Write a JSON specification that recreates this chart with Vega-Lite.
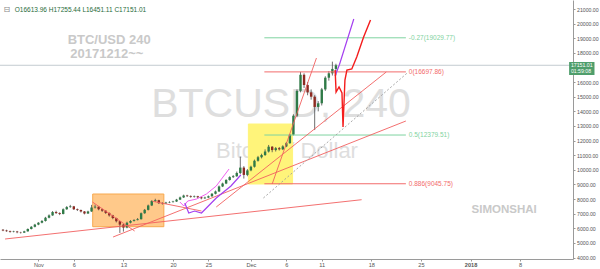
{
  "$schema": "https://vega.github.io/schema/vega-lite/v6.json",
  "width": 573,
  "height": 259,
  "autosize": {"type": "none"},
  "padding": {"left": 0, "top": 0, "right": 27, "bottom": 10},
  "background": "white",
  "config": {"view": {"stroke": null}, "font": "Liberation Sans", "axis": {"labelOverlap": false}},
  "datasets": {
    "candles": [
      {"t":"2017-10-27T00:00:00Z","o":5900,"h":5950,"l":5800,"c":5850},
      {"t":"2017-10-27T12:00:00Z","o":5850,"h":5900,"l":5760,"c":5800},
      {"t":"2017-10-28T00:00:00Z","o":5800,"h":5840,"l":5700,"c":5750},
      {"t":"2017-10-28T12:00:00Z","o":5750,"h":5830,"l":5720,"c":5780},
      {"t":"2017-10-29T00:00:00Z","o":5780,"h":5820,"l":5660,"c":5720},
      {"t":"2017-10-29T12:00:00Z","o":5720,"h":5760,"l":5640,"c":5700},
      {"t":"2017-10-30T00:00:00Z","o":5700,"h":5830,"l":5680,"c":5790},
      {"t":"2017-10-30T12:00:00Z","o":5790,"h":5990,"l":5770,"c":5950},
      {"t":"2017-10-31T00:00:00Z","o":5950,"h":6150,"l":5920,"c":6100},
      {"t":"2017-10-31T12:00:00Z","o":6100,"h":6300,"l":6060,"c":6250},
      {"t":"2017-11-01T00:00:00Z","o":6250,"h":6420,"l":6210,"c":6380},
      {"t":"2017-11-01T12:00:00Z","o":6380,"h":6560,"l":6340,"c":6500},
      {"t":"2017-11-02T00:00:00Z","o":6500,"h":6780,"l":6460,"c":6720},
      {"t":"2017-11-02T12:00:00Z","o":6720,"h":6950,"l":6680,"c":6880},
      {"t":"2017-11-03T00:00:00Z","o":6880,"h":7180,"l":6850,"c":7110},
      {"t":"2017-11-03T12:00:00Z","o":7110,"h":7200,"l":6980,"c":7040},
      {"t":"2017-11-04T00:00:00Z","o":7040,"h":7090,"l":6900,"c":6980},
      {"t":"2017-11-04T12:00:00Z","o":6980,"h":7360,"l":6950,"c":7300},
      {"t":"2017-11-05T00:00:00Z","o":7300,"h":7520,"l":7260,"c":7450},
      {"t":"2017-11-05T12:00:00Z","o":7450,"h":7600,"l":7400,"c":7500},
      {"t":"2017-11-06T00:00:00Z","o":7500,"h":7530,"l":7250,"c":7300},
      {"t":"2017-11-06T12:00:00Z","o":7300,"h":7350,"l":7180,"c":7250},
      {"t":"2017-11-07T00:00:00Z","o":7250,"h":7280,"l":7080,"c":7150},
      {"t":"2017-11-07T12:00:00Z","o":7150,"h":7180,"l":6950,"c":7010},
      {"t":"2017-11-08T00:00:00Z","o":7010,"h":7200,"l":6980,"c":7150},
      {"t":"2017-11-08T12:00:00Z","o":7150,"h":7600,"l":7120,"c":7420},
      {"t":"2017-11-09T00:00:00Z","o":7420,"h":7620,"l":7350,"c":7480},
      {"t":"2017-11-09T12:00:00Z","o":7480,"h":7500,"l":7230,"c":7300},
      {"t":"2017-11-10T00:00:00Z","o":7300,"h":7340,"l":7120,"c":7200},
      {"t":"2017-11-10T12:00:00Z","o":7200,"h":7230,"l":6980,"c":7050},
      {"t":"2017-11-11T00:00:00Z","o":7050,"h":7080,"l":6800,"c":6880},
      {"t":"2017-11-11T12:00:00Z","o":6880,"h":6920,"l":6620,"c":6700},
      {"t":"2017-11-12T00:00:00Z","o":6700,"h":6720,"l":6400,"c":6480},
      {"t":"2017-11-12T12:00:00Z","o":6480,"h":6500,"l":5680,"c":6250},
      {"t":"2017-11-13T00:00:00Z","o":6250,"h":6300,"l":5770,"c":6050},
      {"t":"2017-11-13T12:00:00Z","o":6050,"h":6450,"l":6000,"c":6380},
      {"t":"2017-11-14T00:00:00Z","o":6380,"h":6560,"l":6330,"c":6500},
      {"t":"2017-11-14T12:00:00Z","o":6500,"h":6620,"l":6460,"c":6560},
      {"t":"2017-11-15T00:00:00Z","o":6560,"h":6700,"l":6540,"c":6620},
      {"t":"2017-11-15T12:00:00Z","o":6620,"h":7080,"l":6600,"c":7030},
      {"t":"2017-11-16T00:00:00Z","o":7030,"h":7320,"l":6990,"c":7260},
      {"t":"2017-11-16T12:00:00Z","o":7260,"h":7620,"l":7220,"c":7560},
      {"t":"2017-11-17T00:00:00Z","o":7560,"h":7920,"l":7520,"c":7860},
      {"t":"2017-11-17T12:00:00Z","o":7860,"h":8020,"l":7800,"c":7920},
      {"t":"2017-11-18T00:00:00Z","o":7920,"h":7950,"l":7660,"c":7720},
      {"t":"2017-11-18T12:00:00Z","o":7720,"h":7780,"l":7620,"c":7700},
      {"t":"2017-11-19T00:00:00Z","o":7700,"h":7810,"l":7660,"c":7760},
      {"t":"2017-11-19T12:00:00Z","o":7760,"h":7850,"l":7720,"c":7790},
      {"t":"2017-11-20T00:00:00Z","o":7790,"h":7880,"l":7760,"c":7830},
      {"t":"2017-11-20T12:00:00Z","o":7830,"h":8010,"l":7800,"c":7960},
      {"t":"2017-11-21T00:00:00Z","o":7960,"h":8170,"l":7930,"c":8110},
      {"t":"2017-11-21T12:00:00Z","o":8110,"h":8300,"l":8070,"c":8240},
      {"t":"2017-11-22T00:00:00Z","o":8240,"h":8290,"l":8140,"c":8200},
      {"t":"2017-11-22T12:00:00Z","o":8200,"h":8250,"l":8090,"c":8150},
      {"t":"2017-11-23T00:00:00Z","o":8150,"h":8240,"l":8100,"c":8190},
      {"t":"2017-11-23T12:00:00Z","o":8190,"h":8220,"l":8050,"c":8120},
      {"t":"2017-11-24T00:00:00Z","o":8120,"h":8150,"l":7980,"c":8050},
      {"t":"2017-11-24T12:00:00Z","o":8050,"h":8160,"l":8010,"c":8100},
      {"t":"2017-11-25T00:00:00Z","o":8100,"h":8240,"l":8060,"c":8190},
      {"t":"2017-11-25T12:00:00Z","o":8190,"h":8410,"l":8150,"c":8360},
      {"t":"2017-11-26T00:00:00Z","o":8360,"h":8580,"l":8320,"c":8520},
      {"t":"2017-11-26T12:00:00Z","o":8520,"h":8920,"l":8480,"c":8860},
      {"t":"2017-11-27T00:00:00Z","o":8860,"h":9120,"l":8820,"c":9060},
      {"t":"2017-11-27T12:00:00Z","o":9060,"h":9360,"l":9020,"c":9300},
      {"t":"2017-11-28T00:00:00Z","o":9300,"h":9560,"l":9260,"c":9500},
      {"t":"2017-11-28T12:00:00Z","o":9500,"h":9640,"l":9440,"c":9560},
      {"t":"2017-11-29T00:00:00Z","o":9560,"h":9880,"l":9520,"c":9780},
      {"t":"2017-11-29T12:00:00Z","o":9780,"h":10900,"l":9700,"c":10150},
      {"t":"2017-11-30T00:00:00Z","o":10150,"h":10250,"l":9400,"c":9650},
      {"t":"2017-11-30T12:00:00Z","o":9650,"h":10050,"l":9560,"c":9960},
      {"t":"2017-12-01T00:00:00Z","o":9960,"h":10280,"l":9900,"c":10210},
      {"t":"2017-12-01T12:00:00Z","o":10210,"h":10700,"l":10150,"c":10620},
      {"t":"2017-12-02T00:00:00Z","o":10620,"h":10950,"l":10560,"c":10860},
      {"t":"2017-12-02T12:00:00Z","o":10860,"h":11100,"l":10780,"c":11010},
      {"t":"2017-12-03T00:00:00Z","o":11010,"h":11400,"l":10950,"c":11250},
      {"t":"2017-12-03T12:00:00Z","o":11250,"h":11700,"l":11180,"c":11580},
      {"t":"2017-12-04T00:00:00Z","o":11580,"h":11620,"l":11200,"c":11350},
      {"t":"2017-12-04T12:00:00Z","o":11350,"h":11560,"l":11250,"c":11480},
      {"t":"2017-12-05T00:00:00Z","o":11480,"h":11560,"l":11320,"c":11400},
      {"t":"2017-12-05T12:00:00Z","o":11400,"h":11680,"l":11350,"c":11600},
      {"t":"2017-12-06T00:00:00Z","o":11600,"h":11900,"l":11550,"c":11820},
      {"t":"2017-12-06T12:00:00Z","o":11820,"h":12450,"l":11780,"c":12400},
      {"t":"2017-12-07T00:00:00Z","o":12400,"h":13800,"l":12350,"c":13700},
      {"t":"2017-12-07T12:00:00Z","o":13700,"h":15500,"l":13600,"c":15400},
      {"t":"2017-12-08T00:00:00Z","o":15400,"h":16698,"l":15300,"c":16500},
      {"t":"2017-12-08T12:00:00Z","o":16500,"h":16600,"l":15600,"c":15800},
      {"t":"2017-12-09T00:00:00Z","o":15800,"h":16000,"l":15100,"c":15300},
      {"t":"2017-12-09T12:00:00Z","o":15300,"h":15500,"l":14800,"c":15000},
      {"t":"2017-12-10T00:00:00Z","o":15000,"h":15100,"l":12720,"c":14300},
      {"t":"2017-12-10T12:00:00Z","o":14300,"h":14700,"l":14000,"c":14550},
      {"t":"2017-12-11T00:00:00Z","o":14550,"h":15600,"l":14400,"c":15500},
      {"t":"2017-12-11T12:00:00Z","o":15500,"h":16400,"l":15400,"c":16300},
      {"t":"2017-12-12T00:00:00Z","o":16300,"h":16750,"l":16100,"c":16600},
      {"t":"2017-12-12T12:00:00Z","o":16600,"h":17400,"l":16450,"c":16900},
      {"t":"2017-12-13T00:00:00Z","o":16900,"h":17255.44,"l":16451.11,"c":17151.01}
    ],
    "boxes": [
      {"t":"2017-11-08T16:00:00Z","t2":"2017-11-18T17:00:00Z","p":8344,"p2":6107,"k":"orange"},
      {"t":"2017-11-30T15:20:00Z","t2":"2017-12-06T21:10:00Z","p":13133,"p2":9028,"k":"yellow"}
    ],
    "fib": [
      {"t":"2017-12-02T21:30:00Z","t2":"2017-12-22T21:00:00Z","p":19029.77,"k":"g"},
      {"t":"2017-12-02T21:30:00Z","t2":"2017-12-22T21:00:00Z","p":16697.86,"k":"r"},
      {"t":"2017-12-02T21:30:00Z","t2":"2017-12-22T21:00:00Z","p":12379.51,"k":"g"},
      {"t":"2017-12-02T21:30:00Z","t2":"2017-12-22T21:00:00Z","p":9045.75,"k":"r"}
    ],
    "fiblbl": [
      {"t":"2017-12-23T07:00:00Z","p":19029.77,"lbl":"-0.27(19029.77)","k":"g"},
      {"t":"2017-12-23T07:00:00Z","p":16697.86,"lbl":"0(16697.86)","k":"r"},
      {"t":"2017-12-23T07:00:00Z","p":12379.51,"lbl":"0.5(12379.51)","k":"g"},
      {"t":"2017-12-23T07:00:00Z","p":9045.75,"lbl":"0.886(9045.75)","k":"r"}
    ],
    "trend": [
      {"id":"a","t":"2017-10-27T07:00:00Z","p":5266},
      {"id":"a","t":"2017-12-16T15:00:00Z","p":7954},
      {"id":"b","t":"2017-11-11T13:00:00Z","p":5402},
      {"id":"b","t":"2017-12-22T21:00:00Z","p":13338},
      {"id":"c","t":"2017-11-26T02:30:00Z","p":7455},
      {"id":"c","t":"2017-12-20T02:30:00Z","p":16690},
      {"id":"d","t":"2017-12-04T00:00:00Z","p":9028},
      {"id":"d","t":"2017-12-10T06:00:00Z","p":17648},
      {"id":"e","t":"2017-11-08T15:00:00Z","p":7797},
      {"id":"e","t":"2017-11-14T14:00:00Z","p":5813},
      {"id":"f","t":"2017-11-17T02:00:00Z","p":7850},
      {"id":"f","t":"2017-11-24T00:30:00Z","p":7181}
    ],
    "dotted": [
      {"t":"2017-12-02T18:15:00Z","p":8070},
      {"t":"2017-12-23T03:30:00Z","p":16656}
    ],
    "pink": [
      {"t":"2017-11-20T23:20:00Z","p":7797},
      {"t":"2017-11-21T12:40:00Z","p":7523},
      {"t":"2017-11-22T02:00:00Z","p":7865},
      {"t":"2017-11-23T08:00:00Z","p":8002},
      {"t":"2017-11-24T17:15:00Z","p":8344},
      {"t":"2017-11-26T02:30:00Z","p":8891},
      {"t":"2017-11-27T21:50:00Z","p":10054}
    ],
    "purple": [
      {"id":"lo","t":"2017-11-21T16:00:00Z","p":7729},
      {"id":"lo","t":"2017-11-22T05:20:00Z","p":7044},
      {"id":"lo","t":"2017-11-23T01:10:00Z","p":7181},
      {"id":"lo","t":"2017-11-24T00:30:00Z","p":7044},
      {"id":"lo","t":"2017-11-24T23:50:00Z","p":7523},
      {"id":"lo","t":"2017-11-26T02:30:00Z","p":8070},
      {"id":"lo","t":"2017-11-28T04:20:00Z","p":8891},
      {"id":"lo","t":"2017-11-29T13:40:00Z","p":9644},
      {"id":"hi","t":"2017-12-12T21:00:00Z","p":16416},
      {"id":"hi","t":"2017-12-13T12:00:00Z","p":17200},
      {"id":"hi","t":"2017-12-15T12:30:00Z","p":20316}
    ],
    "redproj": [
      {"t":"2017-12-12T21:20:00Z","p":16827},
      {"t":"2017-12-13T00:30:00Z","p":15322},
      {"t":"2017-12-13T10:30:00Z","p":15664},
      {"t":"2017-12-13T20:30:00Z","p":15254},
      {"t":"2017-12-14T00:00:00Z","p":12928},
      {"t":"2017-12-14T06:30:00Z","p":16143},
      {"t":"2017-12-14T13:10:00Z","p":16827},
      {"t":"2017-12-15T05:45:00Z","p":16895},
      {"t":"2017-12-15T22:30:00Z","p":17716},
      {"t":"2017-12-16T21:50:00Z","p":19084},
      {"t":"2017-12-17T21:10:00Z","p":20247}
    ],
    "note1": [
      {"t":"2017-11-10T23:45:00Z","p":18880,"txt":"BTC/USD 240"},
      {"t":"2017-11-10T16:00:00Z","p":17920,"txt":"20171212~~"}
    ],
    "note2": [
      {"t":"2018-01-05T17:45:00Z","p":7284,"txt":"SIMONSHAI"}
    ],
    "wm1": [
      {"t":"2017-12-05T06:00:00Z","p":14400,"txt":"BTCUSD, 240"}
    ],
    "wm2": [
      {"t":"2017-12-06T02:20:00Z","p":11286,"txt":"Bitcoin / Dollar"}
    ],
    "ohlc": [
      {"t":"2017-10-28T16:00:00Z","p":20966,"txt":"O16613.96  H17255.44  L16451.11  C17151.01"}
    ],
    "icon": [
      {"t":"2017-10-27T13:00:00Z","p":20966,"txt":"⊟"}
    ],
    "last": [
      {"t":"2017-10-26T00:00:00Z","t2":"2018-01-16T00:00:00Z","p":17151.01}
    ],
    "pbox": [
      {"t":"2018-01-14T22:00:00Z","t2":"2018-01-18T12:00:00Z","p":17374,"p2":16486}
    ],
    "ptext": [
      {"t":"2018-01-15T04:00:00Z","p":17200,"txt":"17151.01"},
      {"t":"2018-01-15T04:00:00Z","p":16730,"txt":"01:59:08"}
    ]
  },
  "encoding": {
    "x": {"field": "t", "type": "temporal",
      "scale": {"type": "utc", "domain": [1509086938000, 1515953664000]},
      "axis": {"title": null, "orient": "bottom", "grid": false,
        "values": [1509494400000, 1509926400000, 1510531200000, 1511136000000, 1511568000000, 1512086400000, 1512518400000, 1512950400000, 1513555200000, 1514160000000, 1514764800000, 1515369600000],
        "labelExpr": "utcdate(datum.value) == 1 ? (utcmonth(datum.value) == 0 ? '2018' : utcFormat(datum.value, '%b')) : toString(utcdate(datum.value))",
        "labelFontWeight": {"condition": {"test": "utcmonth(datum.value) == 0 && utcdate(datum.value) == 1", "value": "bold"}, "value": "normal"},
        "labelFontSize": 5.6, "labelColor": "#555555", "labelFont": "Liberation Sans",
        "tickSize": 2, "tickColor": "#999999", "labelPadding": 1.5,
        "domainColor": "#9a9a9a", "labelFlush": false, "labelOverlap": false}},
    "y": {"field": "p", "type": "quantitative",
      "scale": {"domain": [3898, 21616], "nice": false, "zero": false},
      "axis": {"title": null, "orient": "right", "grid": false,
        "values": [4000, 5000, 6000, 7000, 8000, 9000, 10000, 11000, 12000, 13000, 14000, 15000, 16000, 18000, 19000, 20000, 21000],
        "format": ".2f", "labelFontSize": 5.2, "labelColor": "#555555", "labelFont": "Liberation Sans",
        "tickSize": 2, "tickColor": "#999999", "labelPadding": 1.5, "domainColor": "#9a9a9a",
        "labelFlush": false, "labelOverlap": false}}
  },
  "layer": [
    {
      "data": {"name": "wm1"},
      "mark": {"type": "text", "align": "center", "baseline": "middle", "color": "#dedede", "fontSize": 41, "font": "Liberation Sans"},
      "encoding": {"text": {"field": "txt"}}
    },
    {
      "data": {"name": "wm2"},
      "mark": {"type": "text", "align": "center", "baseline": "middle", "color": "#dedede", "fontSize": 22, "font": "Liberation Sans"},
      "encoding": {"text": {"field": "txt"}}
    },
    {
      "data": {"name": "boxes"},
      "mark": {"type": "rect", "strokeWidth": 1},
      "encoding": {
        "x2": {"field": "t2"},
        "y2": {"field": "p2"},
        "fill": {"field": "k", "type": "nominal", "scale": {"domain": ["orange", "yellow"], "range": ["#ffc98a", "#fff47a"]}, "legend": null},
        "stroke": {"field": "k", "type": "nominal", "scale": {"domain": ["orange", "yellow"], "range": ["#f7a94e", "#fff47a"]}, "legend": null}
      }
    },
    {
      "data": {"name": "last"},
      "mark": {"type": "rule", "color": "#c3cbd0", "strokeWidth": 1, "clip": true},
      "encoding": {"x2": {"field": "t2"}}
    },
    {
      "data": {"name": "candles"},
      "transform": [{"calculate": "datum.l", "as": "p"}],
      "mark": {"type": "rule", "color": "#4a4a4a", "strokeWidth": 0.8},
      "encoding": {"y2": {"field": "h"}}
    },
    {
      "data": {"name": "candles"},
      "transform": [{"calculate": "datum.o", "as": "p"}],
      "mark": {"type": "bar", "width": 2.4},
      "encoding": {
        "y2": {"field": "c"},
        "color": {"condition": {"test": "datum.c >= datum.o", "value": "#2f7a47"}, "value": "#8e2a22"}
      }
    },
    {
      "data": {"name": "fib"},
      "mark": {"type": "rule", "strokeWidth": 1},
      "encoding": {
        "x2": {"field": "t2"},
        "color": {"field": "k", "type": "nominal", "scale": {"domain": ["g", "r"], "range": ["#7fd3a0", "#f26b6b"]}, "legend": null}
      }
    },
    {
      "data": {"name": "fiblbl"},
      "mark": {"type": "text", "align": "left", "baseline": "middle", "fontSize": 6.5, "font": "Liberation Sans"},
      "encoding": {
        "text": {"field": "lbl"},
        "color": {"field": "k", "type": "nominal", "legend": null}
      }
    },
    {
      "data": {"name": "trend"},
      "mark": {"type": "line", "color": "#f26060", "strokeWidth": 0.9, "clip": true},
      "encoding": {"detail": {"field": "id"}}
    },
    {
      "data": {"name": "dotted"},
      "mark": {"type": "line", "color": "#9e9e9e", "strokeWidth": 0.9, "strokeDash": [2, 2]},
      "encoding": {}
    },
    {
      "data": {"name": "pink"},
      "mark": {"type": "line", "color": "#f060f0", "strokeWidth": 1},
      "encoding": {}
    },
    {
      "data": {"name": "purple"},
      "mark": {"type": "line", "color": "#a43ff0", "strokeWidth": 1.2},
      "encoding": {"detail": {"field": "id"}}
    },
    {
      "data": {"name": "redproj"},
      "mark": {"type": "line", "color": "#f41c1c", "strokeWidth": 1.4},
      "encoding": {}
    },
    {
      "data": {"name": "note1"},
      "mark": {"type": "text", "align": "center", "baseline": "middle", "fontWeight": "bold", "fontSize": 13, "color": "#c9c9c9", "font": "Liberation Sans"},
      "encoding": {"text": {"field": "txt"}}
    },
    {
      "data": {"name": "note2"},
      "mark": {"type": "text", "align": "center", "baseline": "middle", "fontWeight": "bold", "fontSize": 11.5, "color": "#c9c9c9", "font": "Liberation Sans"},
      "encoding": {"text": {"field": "txt"}}
    },
    {
      "data": {"name": "ohlc"},
      "mark": {"type": "text", "align": "left", "baseline": "middle", "fontSize": 6.5, "color": "#1f6b3a", "font": "Liberation Sans"},
      "encoding": {"text": {"field": "txt"}}
    },
    {
      "data": {"name": "icon"},
      "mark": {"type": "text", "align": "center", "baseline": "middle", "fontSize": 8, "color": "#888888", "font": "DejaVu Sans"},
      "encoding": {"text": {"field": "txt"}}
    },
    {
      "data": {"name": "pbox"},
      "mark": {"type": "rect", "color": "#4f9e6b"},
      "encoding": {"x2": {"field": "t2"}, "y2": {"field": "p2"}}
    },
    {
      "data": {"name": "ptext"},
      "mark": {"type": "text", "align": "left", "baseline": "middle", "fontSize": 5.2, "color": "white", "font": "Liberation Sans"},
      "encoding": {"text": {"field": "txt"}}
    }
  ]
}
